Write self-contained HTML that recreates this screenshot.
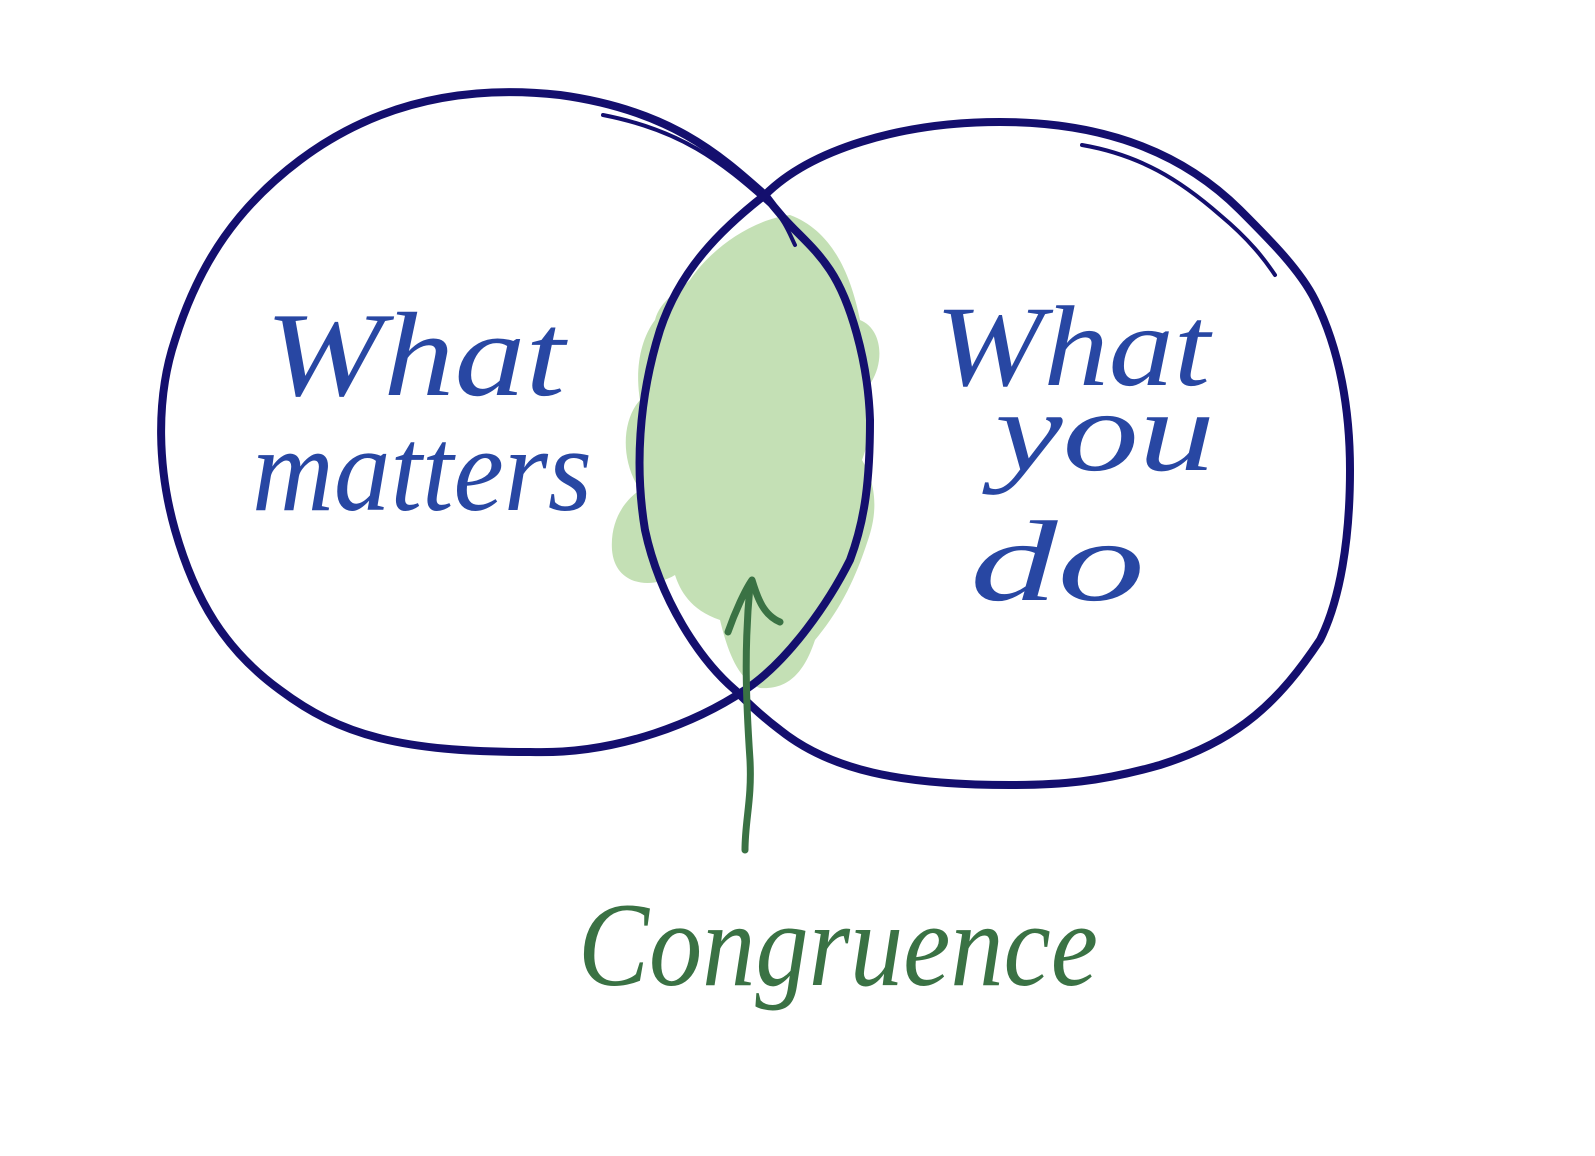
<!DOCTYPE html>
<html><head><meta charset="utf-8"><style>
html,body{margin:0;padding:0;background:#fff;}
svg{display:block}
</style></head><body>
<svg width="1595" height="1156" viewBox="0 0 1595 1156" xmlns="http://www.w3.org/2000/svg">
<rect width="1595" height="1156" fill="#fff"/>
<!-- green blob -->
<path d="M790 215 C830 230 850 270 860 320 C885 330 885 370 865 390 C870 420 870 440 862 460 C880 490 875 520 868 540 C855 580 840 610 815 640 C805 670 790 690 760 688 C735 680 725 640 720 620 C690 610 680 590 675 575 C650 590 615 585 612 550 C610 520 625 500 640 490 C620 460 622 420 640 400 C635 370 640 340 655 320 C660 300 680 290 690 280 C710 250 750 220 790 215 Z" fill="#c4e0b5"/>
<g fill="none" stroke="#140f6e" stroke-width="8" stroke-linecap="round">
<!-- left circle -->
<path d="M765 195 C720 155 670 110 560 95 C470 85 380 100 300 160 C240 205 200 260 175 340 C155 400 158 470 175 530 C195 600 225 650 280 690 C340 735 400 752 530 752 C620 755 700 720 745 690 C790 660 830 600 850 560 C865 520 870 480 870 420 C868 360 850 300 830 270 C810 240 790 230 765 195"/>
<path d="M603 115 C680 130 720 160 770 205 C785 220 790 235 795 245" stroke-width="4"/>
<!-- right circle -->
<path d="M765 195 C810 150 900 122 1000 122 C1100 122 1180 150 1240 210 C1270 240 1300 270 1315 300 C1340 350 1350 410 1350 470 C1350 540 1340 600 1320 640 C1280 700 1240 740 1160 765 C1100 782 1060 785 1010 785 C900 785 830 770 780 730 C760 715 745 700 735 690 C700 660 660 600 645 530 C635 470 638 400 660 330 C680 270 720 230 765 195"/>
<path d="M1082 145 C1140 155 1180 180 1220 215 C1250 240 1265 260 1275 275" stroke-width="4"/>
</g>
<!-- arrow -->
<g fill="none" stroke="#3a7244" stroke-width="7" stroke-linecap="round" stroke-linejoin="round">
<path d="M745 850 C745 820 752 800 750 760 C746 700 744 650 750 585"/>
<path d="M728 632 C735 612 745 590 752 580 C758 600 764 615 780 622"/>
</g>
<g font-family="'Liberation Serif',serif" font-style="italic" fill="#2847a3">
<text x="265" y="395" font-size="120" textLength="300" lengthAdjust="spacingAndGlyphs">What</text>
<text x="252" y="510" font-size="120" textLength="340" lengthAdjust="spacingAndGlyphs">matters</text>
<text x="935" y="385" font-size="115" textLength="275" lengthAdjust="spacingAndGlyphs">What</text>
<text x="995" y="470" font-size="115" textLength="220" lengthAdjust="spacingAndGlyphs">you</text>
<text x="970" y="600" font-size="115" textLength="175" lengthAdjust="spacingAndGlyphs">do</text>
</g>
<text x="578" y="985" font-family="'Liberation Serif',serif" font-style="italic" font-size="120" fill="#3a7244" textLength="520" lengthAdjust="spacingAndGlyphs">Congruence</text>
</svg>
</body></html>
